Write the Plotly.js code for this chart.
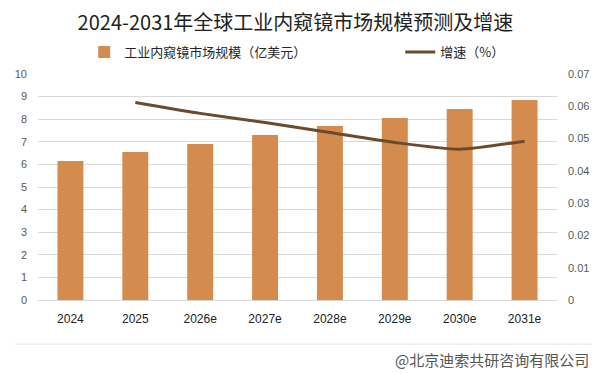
<!DOCTYPE html>
<html>
<head>
<meta charset="utf-8">
<script src="https://cdn.plot.ly/plotly-3.0.1.min.js"></script>
<style>html,body{margin:0;padding:0;background:#fff;}#chart{width:603px;height:374px;}</style>
</head>
<body>
<div id="chart"></div>
<script>
const categories = ['2024', '2025', '2026e', '2027e', '2028e', '2029e', '2030e', '2031e'];
const marketSize = [6.15, 6.55, 6.9, 7.3, 7.7, 8.05, 8.45, 8.85];
const growthRate = [null, 0.0612, 0.0578, 0.0550, 0.0519, 0.0488, 0.0467, 0.0492];
const barName = '工业内窥镜市场规模（亿美元）';
const lineName = '增速（%）';
const titleText = '2024-2031年全球工业内窥镜市场规模预测及增速';
const sourceText = '@北京迪索共研咨询有限公司';

const font = '"Microsoft YaHei", "Noto Sans CJK SC", "Liberation Sans", sans-serif';

const traces = [
  {
    type: 'bar', x: categories, y: marketSize, name: barName,
    marker: {color: '#D48B4E'}, width: 0.4, legend: 'legend'
  },
  {
    type: 'scatter', mode: 'lines', x: categories, y: growthRate, name: lineName,
    yaxis: 'y2', line: {color: '#6B4A2E', width: 3, shape: 'spline', smoothing: 0.6},
    connectgaps: false, legend: 'legend2'
  }
];

const layout = {
  width: 603, height: 374,
  margin: {l: 38, r: 46, t: 74, b: 74},
  paper_bgcolor: '#ffffff', plot_bgcolor: '#ffffff',
  font: {family: font, size: 12, color: '#595959'},
  title: {text: titleText, font: {family: font, size: 20, color: '#222'},
          x: 0.49, xref: 'container', xanchor: 'center', y: 0.938, yref: 'container', yanchor: 'middle'},
  showlegend: true,
  legend: {orientation: 'h', x: 0.089, xanchor: 'left', y: 1.097, yanchor: 'middle',
           font: {family: font, size: 13, color: '#262626'}, bgcolor: 'rgba(0,0,0,0)'},
  legend2: {orientation: 'h', x: 0.698, xanchor: 'left', y: 1.097, yanchor: 'middle',
           font: {family: font, size: 13, color: '#262626'}, bgcolor: 'rgba(0,0,0,0)'},
  xaxis: {
    type: 'category', showgrid: false, showline: true, linecolor: '#d9d9d9', linewidth: 1,
    ticks: '', ticklabelstandoff: 8,
    tickfont: {family: '"Liberation Sans", Arial, sans-serif', size: 12, color: '#222'}
  },
  yaxis: {
    range: [0, 10], dtick: 1, showgrid: true, gridcolor: '#d9d9d9', gridwidth: 1,
    zeroline: false, showline: false, ticks: '', ticklabelstandoff: 10,
    tickfont: {family: '"Liberation Sans", Arial, sans-serif', size: 11, color: '#595959'}
  },
  yaxis2: {
    overlaying: 'y', side: 'right', range: [0, 0.07], dtick: 0.01,
    showgrid: false, zeroline: false, showline: false, ticks: '', ticklabelstandoff: 10,
    tickfont: {family: '"Liberation Sans", Arial, sans-serif', size: 11, color: '#595959'}
  },
  shapes: [
    {type: 'line', xref: 'paper', yref: 'paper', x0: -0.044, x1: 1.066, y0: -0.195, y1: -0.195,
     line: {color: '#e3e3e3', width: 1}}
  ],
  annotations: [
    {text: sourceText, xref: 'paper', yref: 'paper', x: 1.066, y: -0.265, xanchor: 'right', yanchor: 'middle',
     showarrow: false, font: {family: font, size: 15, color: '#555'}}
  ]
};

Plotly.newPlot('chart', traces, layout, {displayModeBar: false, staticPlot: true});
</script>
</body>
</html>
